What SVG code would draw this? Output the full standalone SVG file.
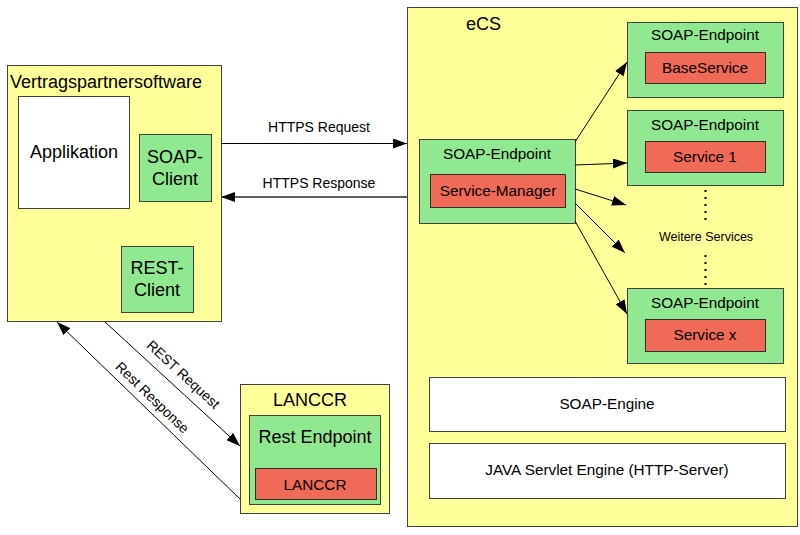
<svg xmlns="http://www.w3.org/2000/svg" width="800" height="535" viewBox="0 0 800 535">
<style>
text{font-family:"Liberation Sans",Arial,sans-serif;fill:#000}
.y{fill:#ffff99;stroke:#404040;stroke-width:1}
.g{fill:#90e890;stroke:#404040;stroke-width:1}
.r{fill:#f06a58;stroke:#303030;stroke-width:1}
.w{fill:#ffffff;stroke:#404040;stroke-width:1}
.t18{font-size:18px}
.t15{font-size:15.3px}
.m{text-anchor:middle}
.c{fill:none;stroke:#000;stroke-width:1}
</style>
<defs>
<marker id="ah" viewBox="0 0 14 10" refX="14" refY="5" markerWidth="14" markerHeight="10" markerUnits="userSpaceOnUse" orient="auto">
<path d="M0,0 L14,5 L0,10 Z" fill="#000"/>
</marker>
</defs>
<rect width="800" height="535" fill="#fff"/>

<g id="vertragspartner">
<rect class="y" x="7.5" y="65.5" width="214" height="256"/>
<text class="t18" x="10" y="88">Vertragspartnersoftware</text>
</g>
<g id="applikation">
<rect class="w" x="18.5" y="96.5" width="111" height="112"/>
<text class="t18 m" x="74" y="158">Applikation</text>
</g>
<g id="soap-client">
<rect class="g" x="139.5" y="134.5" width="72" height="67"/>
<text class="t18 m" x="175" y="163">SOAP-</text>
<text class="t18 m" x="175" y="185">Client</text>
</g>
<g id="rest-client">
<rect class="g" x="121.5" y="246.5" width="72" height="66"/>
<text class="t18 m" x="157" y="274">REST-</text>
<text class="t18 m" x="157" y="296">Client</text>
</g>

<g id="ecs">
<rect class="y" x="407.5" y="7.5" width="390" height="519"/>
<text class="t18" x="466" y="30">eCS</text>
</g>
<g id="ep-base">
<rect class="g" x="627.5" y="22.5" width="156" height="75"/>
<text class="t15 m" x="705" y="40">SOAP-Endpoint</text>
<rect class="r" x="645.5" y="52.5" width="120" height="31"/>
<text class="t15 m" x="705" y="73">BaseService</text>
</g>
<g id="ep-service1">
<rect class="g" x="627.5" y="110.5" width="156" height="75"/>
<text class="t15 m" x="705" y="130">SOAP-Endpoint</text>
<rect class="r" x="645.5" y="141.5" width="120" height="31"/>
<text class="t15 m" x="705" y="162">Service 1</text>
</g>
<g id="ep-manager">
<rect class="g" x="419.5" y="139.5" width="156" height="84"/>
<text class="t15 m" x="497" y="159">SOAP-Endpoint</text>
<rect class="r" x="430.5" y="174.5" width="135" height="33"/>
<text class="t15 m" x="498" y="196">Service-Manager</text>
</g>
<g id="weitere">
<line x1="705.5" y1="190" x2="705.5" y2="222" stroke="#000" stroke-width="2" stroke-dasharray="2,5"/>
<line x1="705.5" y1="255" x2="705.5" y2="287" stroke="#000" stroke-width="2" stroke-dasharray="2,5"/>
<text class="m" x="706" y="241" font-size="12.5">Weitere Services</text>
</g>
<g id="ep-servicex">
<rect class="g" x="627.5" y="288.5" width="156" height="75"/>
<text class="t15 m" x="705" y="308">SOAP-Endpoint</text>
<rect class="r" x="645.5" y="319.5" width="120" height="32"/>
<text class="t15 m" x="705" y="340">Service x</text>
</g>
<g id="soap-engine">
<rect class="w" x="429.5" y="377.5" width="356" height="54"/>
<text class="t15 m" x="607" y="409">SOAP-Engine</text>
</g>
<g id="servlet-engine">
<rect class="w" x="429.5" y="443.5" width="356" height="55"/>
<text class="t15 m" x="607" y="475">JAVA Servlet Engine (HTTP-Server)</text>
</g>

<g id="lanccr">
<rect class="y" x="240.5" y="384.5" width="149" height="129"/>
<text class="t18 m" x="310" y="406">LANCCR</text>
<rect class="g" x="249.5" y="415.5" width="131" height="89"/>
<text class="t18 m" x="315" y="443">Rest Endpoint</text>
<rect class="r" x="255.5" y="468.5" width="121" height="31"/>
<text class="t15 m" x="315" y="490">LANCCR</text>
</g>

<g id="connectors">
<line class="c" x1="221" y1="143.5" x2="407" y2="143.5" marker-end="url(#ah)"/>
<text class="m" x="319" y="132" font-size="14">HTTPS Request</text>
<line x1="407" y1="197" x2="221" y2="197" stroke="#606060" stroke-width="2" marker-end="url(#ah)"/>
<text class="m" x="319" y="188" font-size="14">HTTPS Response</text>

<line class="c" x1="575" y1="142" x2="627" y2="62" marker-end="url(#ah)"/>
<line class="c" x1="575" y1="165" x2="627" y2="163" marker-end="url(#ah)"/>
<line class="c" x1="575" y1="189" x2="626" y2="205" marker-end="url(#ah)"/>
<line class="c" x1="575" y1="203" x2="625" y2="253" marker-end="url(#ah)"/>
<line class="c" x1="575" y1="221" x2="627" y2="314" marker-end="url(#ah)"/>

<line class="c" x1="105" y1="322" x2="240" y2="446" marker-end="url(#ah)"/>
<text class="m" x="180" y="378" font-size="14" transform="rotate(42.6 180 378)">REST Request</text>
<line class="c" x1="240" y1="499" x2="57" y2="322" marker-end="url(#ah)"/>
<text class="m" x="149" y="401" font-size="14" transform="rotate(44 149 401)">Rest Response</text>
</g>
</svg>
